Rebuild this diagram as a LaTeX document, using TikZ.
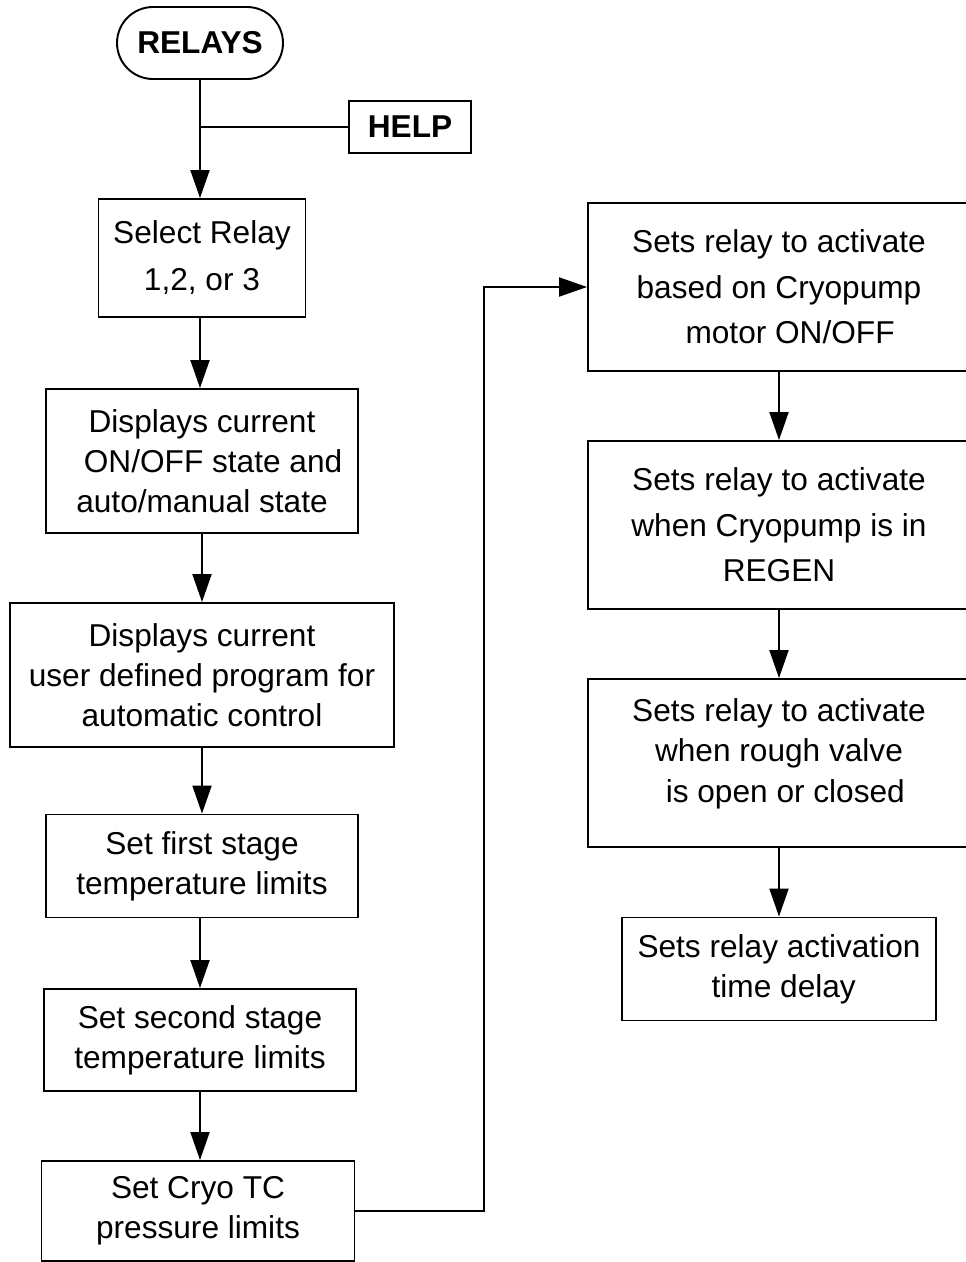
\documentclass[tikz,border=0pt]{standalone}
\usepackage{fontspec}
\setmainfont{Liberation Sans}
\usetikzlibrary{positioning, arrows.meta, shapes.misc, calc}

\begin{document}
\begin{tikzpicture}[x=0.02cm, y=-0.02cm,
  box/.style={draw, rectangle, line width=1.1pt, align=center, inner sep=0pt,
    font=\fontsize{18}{22.8}\selectfont},
  flow/.style={-{Triangle[length=0.56cm, width=0.38cm]}, line width=1.1pt}]
  \useasboundingbox (0,0) rectangle (965,1262);

  % left column
  \node[box, rounded rectangle, minimum width=3.32cm, minimum height=1.44cm] (relays) at (200,43) {\bfseries RELAYS};
  \node[box, minimum width=2.44cm, minimum height=1.04cm] (help) at (410,127) {\bfseries HELP};
  \node[box, minimum width=4.14cm, minimum height=2.36cm] (select) at (202,258) {Select Relay\\[4pt]1,2, or 3};
  \node[box, minimum width=6.24cm, minimum height=2.88cm] (state) at (202,461) {Displays current\\\hspace*{0.7em}ON/OFF state and\\auto/manual state};
  \node[box, minimum width=7.68cm, minimum height=2.88cm] (program) at (202,675) {Displays current\\user defined program for\\automatic control};
  \node[box, minimum width=6.24cm, minimum height=2.06cm] (first) at (202,866) {Set first stage\\temperature limits};
  \node[box, minimum width=6.24cm, minimum height=2.04cm] (second) at (200,1040) {Set second stage\\temperature limits};
  \node[box, minimum width=6.26cm, minimum height=2.0cm] (cryotc) at (198,1211) {Set Cryo TC\\pressure limits};

  % right column
  \node[box, minimum width=7.64cm, minimum height=3.36cm] (motor) at (779,287) {Sets relay to activate\\[3pt]based on Cryopump\\[3pt]\hspace*{0.7em}motor ON/OFF};
  \node[box, minimum width=7.64cm, minimum height=3.36cm] (regen) at (779,525) {Sets relay to activate\\[3pt]when Cryopump is in\\[3pt]REGEN};
  \node[box, minimum width=7.64cm, minimum height=3.36cm, text depth=0.5cm] (rough) at (779,763) {Sets relay to activate\\when rough valve\\\hspace*{0.4em}is open or closed};
  \node[box, minimum width=6.28cm, minimum height=2.06cm] (delay) at (779,969) {Sets relay activation\\\hspace*{0.3em}time delay};

  \coordinate (turn) at (484,1211);

  \draw[line width=1.1pt] (help.west) -- (help.west -| relays.south);
  \draw[flow] (relays.south) -- (relays.south |- select.north);
  \draw[flow] (select.south -| relays.south) -- (relays.south |- state.north);
  \draw[flow] (state.south) -- (state.south |- program.north);
  \draw[flow] (program.south) -- (program.south |- first.north);
  \draw[flow] (first.south -| second.north) -- (second.north);
  \draw[flow] (second.south) -- (second.south |- cryotc.north);
  \draw[flow] (cryotc.east) -- (turn) |- (motor.west);
  \draw[flow] (motor) -- (regen);
  \draw[flow] (regen) -- (rough);
  \draw[flow] (rough) -- (delay);
\end{tikzpicture}
\end{document}
